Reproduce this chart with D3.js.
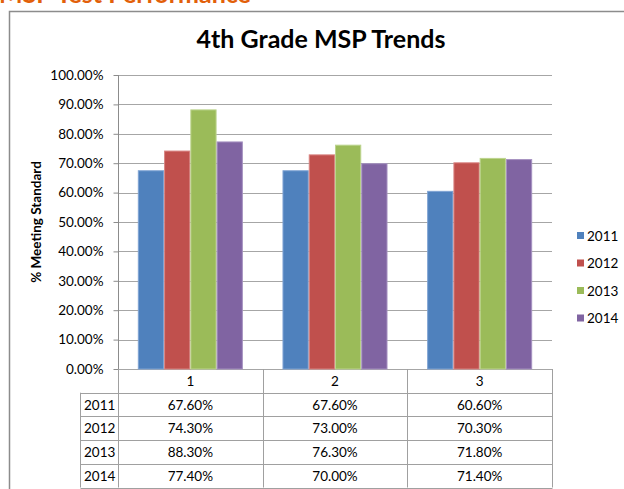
<!DOCTYPE html>
<html>
<head>
<meta charset="utf-8">
<script src="https://cdn.jsdelivr.net/npm/d3@7"></script>
<style>
  body { margin: 0; background: #fff; }
  svg { display: block; font-family: Lato, "Open Sans", sans-serif; }
</style>
</head>
<body>
<svg id="chart" width="624" height="489"></svg>
<script>
var categories = ["1", "2", "3"];
var years = ["2011", "2012", "2013", "2014"];
var values2011 = [0.676, 0.676, 0.606];
var values2012 = [0.743, 0.730, 0.703];
var values2013 = [0.883, 0.763, 0.718];
var values2014 = [0.774, 0.700, 0.714];
var yTicks = [0, 0.1, 0.2, 0.3, 0.4, 0.5, 0.6, 0.7, 0.8, 0.9, 1.0];
var colors = ["#4F81BD", "#C0504D", "#9BBB59", "#8064A2"];
var edges = ["#7FA3D3", "#D98583", "#BCD48E", "#A591C0"];

(function() {
  var series = years.map(function(y, i) {
    return {year: y, values: [values2011, values2012, values2013, values2014][i]};
  });

  var svg = d3.select("#chart");
  var pct = d3.format(".2%");

  // header cut off at top of the slide
  svg.append("text")
    .attr("x", -1).attr("y", 2.5)
    .attr("fill", "#E2600A")
    .attr("font-weight", "bold")
    .attr("font-size", 25)
    .text("MSP Test Performance");

  // chart frame (runs off the right and bottom edges)
  svg.append("rect")
    .attr("x", 9.5).attr("y", 11.5)
    .attr("width", 640).attr("height", 500)
    .attr("fill", "#fff")
    .attr("stroke", "#8c8c8c")
    .attr("stroke-width", 1.5);

  svg.append("text")
    .attr("x", 321).attr("y", 48)
    .attr("text-anchor", "middle")
    .attr("font-weight", "bold")
    .attr("font-size", 25)
    .text("4th Grade MSP Trends");

  var pL = 118, pR = 552, pT = 75, pB = 369;
  var x0 = d3.scaleBand().domain(categories).range([pL, pR]);
  var x1 = d3.scaleBand().domain(years)
    .range([x0.bandwidth() * 0.137, x0.bandwidth() * 0.863]);
  var y = d3.scaleLinear().domain([0, 1]).range([pB, pT]);

  // gridlines
  svg.append("g").selectAll("line").data(yTicks).enter().append("line")
    .attr("x1", pL).attr("x2", pR)
    .attr("y1", function(d) { return Math.round(y(d)) + 0.5; })
    .attr("y2", function(d) { return Math.round(y(d)) + 0.5; })
    .attr("stroke", "#a6a6a6");

  var yAxis = d3.axisLeft(y).tickValues(yTicks).tickFormat(pct).tickSize(5).tickPadding(10);
  var yG = svg.append("g").attr("transform", "translate(" + (pL + 0.5) + ",0)").call(yAxis);
  yG.select(".domain").attr("stroke", "#8c8c8c").attr("d", "M0," + pT + "V" + pB);
  yG.selectAll(".tick line").attr("stroke", "#8c8c8c");
  yG.selectAll(".tick text").attr("font-size", 13.5).attr("fill", "#000")
    .attr("font-family", "Lato, 'Open Sans', sans-serif");

  svg.append("text")
    .attr("transform", "translate(41," + ((pT + pB) / 2) + ") rotate(-90)")
    .attr("text-anchor", "middle")
    .attr("font-weight", "bold")
    .attr("font-size", 13.5)
    .text("% Meeting Standard");

  // bars
  var groups = svg.append("g").selectAll("g").data(series).enter().append("g");
  groups.selectAll("rect").data(function(s, si) {
      return s.values.map(function(v, ci) { return {cat: categories[ci], year: s.year, v: v, si: si}; });
    }).enter().append("rect")
    .attr("x", function(d) { return x0(d.cat) + x1(d.year) + 0.5; })
    .attr("y", function(d) { return y(d.v) + 0.5; })
    .attr("width", x1.bandwidth() - 1)
    .attr("height", function(d) { return pB - y(d.v) - 0.5; })
    .attr("fill", function(d) { return colors[d.si]; })
    .attr("stroke", function(d) { return edges[d.si]; })
    .attr("stroke-width", 1);

  // data table
  var rowH = 23.7, headBottom = pB + rowH, tableLeft = 80.5;
  var tg = svg.append("g").attr("stroke", "#a0a0a0").attr("stroke-width", 1).attr("fill", "none");
  var cols = categories.map(function(c) { return x0(c); }).concat([pR]);
  cols.forEach(function(cx) {
    tg.append("line").attr("x1", Math.round(cx) + 0.5).attr("x2", Math.round(cx) + 0.5)
      .attr("y1", pB).attr("y2", headBottom + rowH * years.length);
  });
  tg.append("line").attr("x1", tableLeft).attr("x2", tableLeft)
    .attr("y1", headBottom).attr("y2", headBottom + rowH * years.length);
  d3.range(years.length + 1).forEach(function(i) {
    var yy = Math.round(headBottom + rowH * i) + 0.5;
    tg.append("line").attr("x1", tableLeft).attr("x2", pR + 0.5).attr("y1", yy).attr("y2", yy);
  });

  svg.append("g").selectAll("text").data(categories).enter().append("text")
    .attr("x", function(c) { return x0(c) + x0.bandwidth() / 2; })
    .attr("y", pB + 17)
    .attr("text-anchor", "middle")
    .attr("font-size", 13.5)
    .text(function(c) { return c; });

  var rows = svg.append("g").selectAll("g").data(series).enter().append("g")
    .attr("transform", function(s, i) { return "translate(0," + (headBottom + rowH * i + 17) + ")"; });
  rows.append("text").attr("x", 84).attr("font-size", 13.5).text(function(s) { return s.year; });
  rows.selectAll(".val").data(function(s) { return s.values; }).enter().append("text")
    .attr("class", "val")
    .attr("x", function(v, i) { return x0(categories[i]) + x0.bandwidth() / 2; })
    .attr("text-anchor", "middle")
    .attr("font-size", 13.5)
    .text(function(v) { return pct(v); });

  // legend
  var lg = svg.append("g").selectAll("g").data(years).enter().append("g")
    .attr("transform", function(d, i) { return "translate(577," + (236 + i * 27.5) + ")"; });
  lg.append("rect").attr("x", 0).attr("y", -4).attr("width", 7).attr("height", 7)
    .attr("fill", function(d, i) { return colors[i]; });
  lg.append("text").attr("x", 10).attr("y", 4.5).attr("font-size", 13.5).text(function(d) { return d; });
})();
</script>
</body>
</html>
